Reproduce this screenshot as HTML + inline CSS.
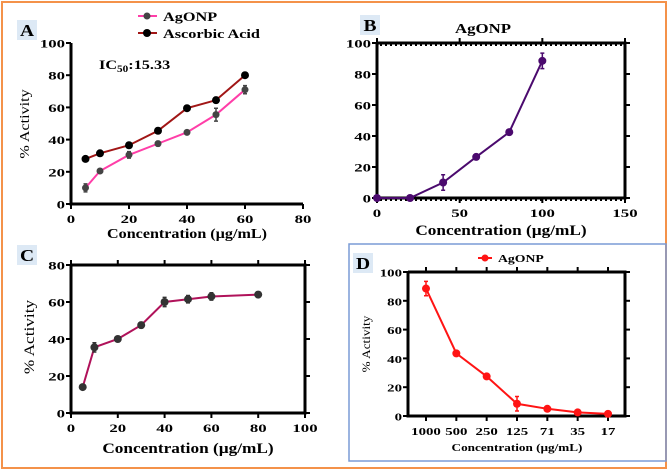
<!DOCTYPE html>
<html><head><meta charset="utf-8"><style>
body{margin:0;background:#fff;}
svg{display:block;font-family:"Liberation Serif",serif;font-weight:bold;}
</style></head><body>
<svg id="fig" width="669" height="472" viewBox="0 0 669 472">
<rect x="2" y="2" width="664" height="466" fill="none" stroke="#f4924a" stroke-width="2"/>
<rect x="349" y="244" width="317" height="217" fill="none" stroke="#7a9bd6" stroke-width="1.5"/>
</svg>
<script>
// Panel A data
const aX=[5,10,20,30,40,50,60];
const aAg=[10,20.5,30.5,37.5,44.5,55.5,71];
const aAgErr=[2.5,1,2,1.5,1,4,2.5];
const aAsc=[28,31.5,36.5,45.5,59.5,64.5,80];
const aXTicks=[0,20,40,60,80];
const aYTicks=[0,20,40,60,80,100];
// Panel B data
const bX=[0,20,40,60,80,100];
const bY=[0,0,10,26.5,42.5,88.5];
const bErr=[0,0,5,1,1.5,5];
const bXTicks=[0,50,100,150];
const bYTicks=[0,20,40,60,80,100];
// Panel C data
const cX=[5,10,20,30,40,50,60,80];
const cY=[14,35.5,40,47.5,60,61.5,63,64];
const cErr=[0.5,2.5,1.5,1.5,2.5,2,2,1.5];
const cXTicks=[0,20,40,60,80,100];
const cYTicks=[0,20,40,60,80];
// Panel D data
const dCats=["1000","500","250","125","71","35","17"];
const dY=[88.5,43.5,27.5,8.5,5,2.5,1.5];
const dErr=[5,1.5,1,5,1.5,0.5,0.5];
const dYTicks=[0,20,40,60,80,100];

const NS="http://www.w3.org/2000/svg";
const svg=document.getElementById('fig');
function mk(tag,attrs,parent,text){const e=document.createElementNS(NS,tag);for(const k in attrs)e.setAttribute(k,attrs[k]);if(text!==undefined)e.textContent=text;(parent||svg).appendChild(e);return e;}
function txt(g,x,y,s,fs,anchor,st,extra){const a=Object.assign({x:0,y:0,transform:`translate(${x},${y}) scale(${st},1)`,'text-anchor':anchor,'font-size':fs},extra||{});return mk('text',a,g,s);}
function scale(d0,d1,r0,r1){return v=>r0+(v-d0)/(d1-d0)*(r1-r0);}

function axes(g,x0,x1,y0,y1,sx,sy,xt,yt,xlabels,opts){
  const tf=opts.tf||12, st=opts.st||1.4;
  yt.forEach((v,i)=>{const y=sy(v);
    const t=mk('line',{x1:x0-5,x2:x0,y1:y,y2:y,stroke:'#000','stroke-width':2},g);
    
    const l=txt(g,x0-6,y+4.5,String(v),tf,'end',st);
    
    if(opts.right){const r=mk('line',{x1:x1,x2:x1+5,y1:y,y2:y,stroke:'#000','stroke-width':2},g);}
  });
  xt.forEach((v,i)=>{const x=sx(v);
    const t=mk('line',{x1:x,x2:x,y1:y0,y2:y0+5,stroke:'#000','stroke-width':2},g);
    
    const l=txt(g,x,y0+19,xlabels?xlabels[i]:String(v),tf,'middle',st);
    
    if(opts.top){const r=mk('line',{x1:x,x2:x,y1:y1-5,y2:y1,stroke:'#000','stroke-width':2},g);}
  });
  const box=mk('path',{d:`M${x0},${y1}V${y0}H${x1}`+(opts.box?`V${y1}H${x0}`:''),fill:'none',stroke:'#000','stroke-width':3},g);
  
  if(opts.dots){for(let x=x0+4;x<x1;x+=5){mk('line',{x1:x,x2:x,y1:y1,y2:y1+3,stroke:'#000','stroke-width':2},g);mk('line',{x1:x,x2:x,y1:y0,y2:y0+3,stroke:'#000','stroke-width':2},g);}}
}
function series(g,xs,ys,errs,sx,sy,lc,mc,r,name){
  const pts=xs.map((x,i)=>sx(x)+','+sy(ys[i])).join(' ');
  const pl=mk('polyline',{points:pts,fill:'none',stroke:lc,'stroke-width':2},g);
  
  xs.forEach((x,i)=>{const cx=sx(x),cy=sy(ys[i]);
    if(errs&&errs[i]>0.3){const e=mk('path',{d:`M${cx},${sy(ys[i]+errs[i])}V${sy(ys[i]-errs[i])}M${cx-2},${sy(ys[i]+errs[i])}H${cx+2}M${cx-2},${sy(ys[i]-errs[i])}H${cx+2}`,stroke:mc,'stroke-width':1.5,fill:'none'},g);
      }
    const c=mk('circle',{cx:cx,cy:cy,r:r,fill:mc},g);
    
  });
}
function label(t,x,y){const g=mk('g',{});
  mk('rect',{x:x,y:y,width:20,height:20,fill:'#dde9f5'},g);txt(g,x+10,y+16,t,17,'middle',1.15);}
function ytitle(x,y,fs,st){const t=mk('text',{x:0,y:0,transform:`translate(${x},${y}) rotate(-90) scale(${st||1.15},1)`,'text-anchor':'middle','font-size':fs||14,'font-weight':'normal'},svg,'% Activity');}
function xtitle(x,y,fs,st){const t=txt(svg,x,y,'Concentration (µg/mL)',fs||14,'middle',st||1.15);}

// Panel A
{const g=mk('g',{});
 const sx=scale(0,80,71,303),sy=scale(0,100,204,43);
 axes(g,71,303,204,43,sx,sy,aXTicks,aYTicks,null,{});
 series(g,aX,aAsc,null,sx,sy,'#a11616','#000',4,'ascorbic-acid');
 series(g,aX,aAg,aAgErr,sx,sy,'#ff3ea8','#444',3.5,'agonp');
 const t=txt(g,99,69,'',13,'start',1.25);
 t.innerHTML='IC<tspan font-size="9" dy="3">50</tspan><tspan dy="-3">:15.33</tspan>';
 const l1=mk('g',{},g);
 mk('line',{x1:138,x2:157,y1:16,y2:16,stroke:'#ff3ea8','stroke-width':2},l1);mk('circle',{cx:147,cy:16,r:3.5,fill:'#444'},l1);txt(l1,163,21,'AgONP',13,'start',1.25);
 const l2=mk('g',{},g);
 mk('line',{x1:138,x2:157,y1:33,y2:33,stroke:'#a11616','stroke-width':2},l2);mk('circle',{cx:147,cy:33,r:4,fill:'#000'},l2);txt(l2,163,38,'Ascorbic Acid',13,'start',1.25);
 label('A',17,20);ytitle(29,124,14);xtitle(187,238,14);}

// Panel B
{const g=mk('g',{});
 const sx=scale(0,150,377,625),sy=scale(0,100,198,43);
 axes(g,377,625,198,43,sx,sy,bXTicks,bYTicks,null,{right:true,top:true,box:true,dots:true});
 series(g,bX,bY,bErr,sx,sy,'#4b0a6e','#4b0a6e',4,'agonp');
 const t=txt(g,483,33,'AgONP',14,'middle',1.2);
 label('B',360,15);xtitle(501,235,15);}

// Panel C
{const g=mk('g',{});
 const sx=scale(0,100,71,305),sy=scale(0,80,413,265);
 axes(g,71,305,413,265,sx,sy,cXTicks,cYTicks,null,{right:true,top:true,box:true});
 series(g,cX,cY,cErr,sx,sy,'#b0125a','#333',4,'sample');
 label('C',17,245);ytitle(34,337,15);xtitle(188,453,15);}

// Panel D
{const g=mk('g',{});
 const idx=dCats.map((c,i)=>i);
 const sx=scale(0,6,426,608),sy=scale(0,100,416,272);
 axes(g,408,625,416,272,sx,sy,idx,dYTicks,dCats,{right:true,top:true,box:true,tf:11,st:1.35});
 series(g,idx,dY,dErr,sx,sy,'#ff1414','#ff1414',4,'agonp');
 const l=mk('g',{},g);
 mk('line',{x1:478,x2:492,y1:258,y2:258,stroke:'#ff1414','stroke-width':2},l);mk('circle',{cx:485,cy:258,r:3.5,fill:'#ff1414'},l);txt(l,498,262,'AgONP',11,'start',1.25);
 label('D',353,253);ytitle(370,344,12,1.1);xtitle(517,451,11,1.2);}
</script>
</body></html>
